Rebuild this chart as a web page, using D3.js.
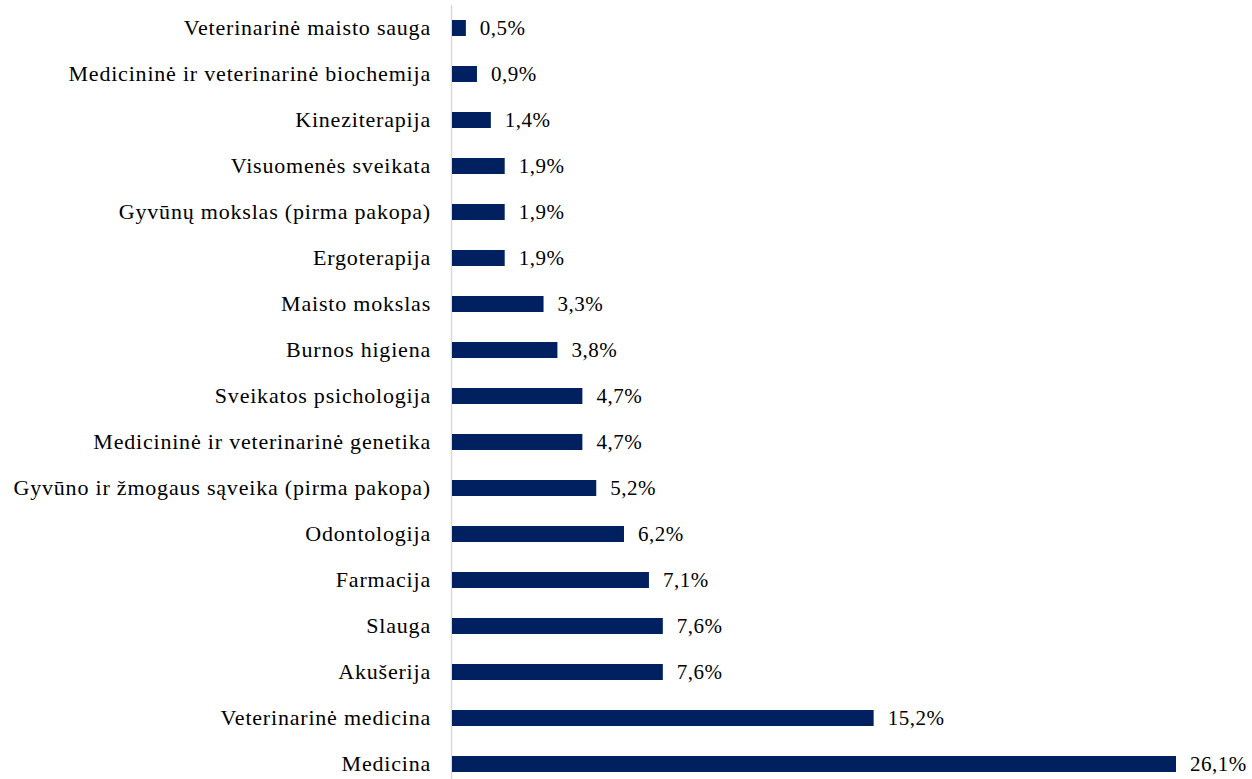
<!DOCTYPE html>
<html>
<head>
<meta charset="utf-8">
<script src="https://cdn.jsdelivr.net/npm/d3@7/dist/d3.min.js"></script>
<style>
  html, body { margin: 0; padding: 0; background: #fff; }
  svg { display: block; }
</style>
</head>
<body>
<svg id="chart" width="1252" height="779"></svg>
<script>
const categories = [
  "Veterinarinė maisto sauga",
  "Medicininė ir veterinarinė biochemija",
  "Kineziterapija",
  "Visuomenės sveikata",
  "Gyvūnų mokslas (pirma pakopa)",
  "Ergoterapija",
  "Maisto mokslas",
  "Burnos higiena",
  "Sveikatos psichologija",
  "Medicininė ir veterinarinė genetika",
  "Gyvūno ir žmogaus sąveika (pirma pakopa)",
  "Odontologija",
  "Farmacija",
  "Slauga",
  "Akušerija",
  "Veterinarinė medicina",
  "Medicina"
];
const values = [0.5, 0.9, 1.4, 1.9, 1.9, 1.9, 3.3, 3.8, 4.7, 4.7, 5.2, 6.2, 7.1, 7.6, 7.6, 15.2, 26.1];

const svg = d3.select("#chart");
const axisX = 451;
const x = d3.scaleLinear().domain([0, 26.1]).range([axisX, 1175]);
const y = d3.scaleBand().domain(categories).range([5, 787]).padding(0);
const barH = 16;
const font = "'Liberation Serif', 'Times New Roman', serif";

svg.append("line")
  .attr("x1", axisX + 0.5).attr("x2", axisX + 0.5)
  .attr("y1", 5).attr("y2", 779)
  .attr("stroke", "#d9d9d9").attr("stroke-width", 1.5);

const data = categories.map((c, i) => ({ c, v: values[i] }));

svg.selectAll("rect.bar").data(data).join("rect")
  .attr("class", "bar")
  .attr("x", x(0) + 1)
  .attr("y", d => y(d.c) + (y.bandwidth() - barH) / 2)
  .attr("width", d => x(d.v) - x(0))
  .attr("height", barH)
  .attr("fill", "#002060");

svg.selectAll("text.cat").data(data).join("text")
  .attr("class", "cat")
  .attr("x", axisX - 20)
  .attr("y", d => y(d.c) + y.bandwidth() / 2 + 6.5)
  .attr("text-anchor", "end")
  .attr("font-family", font)
  .attr("font-size", 22)
  .attr("letter-spacing", 0.8)
  .attr("fill", "#000")
  .text(d => d.c);

const fmt = v => v.toFixed(1).replace(".", ",") + "%";
svg.selectAll("text.val").data(data).join("text")
  .attr("class", "val")
  .attr("x", d => x(d.v) + 15)
  .attr("y", d => y(d.c) + y.bandwidth() / 2 + 7)
  .attr("font-family", font)
  .attr("font-size", 21)
  .attr("letter-spacing", 0.5)
  .attr("fill", "#000")
  .text(d => fmt(d.v));
</script>
</body>
</html>
